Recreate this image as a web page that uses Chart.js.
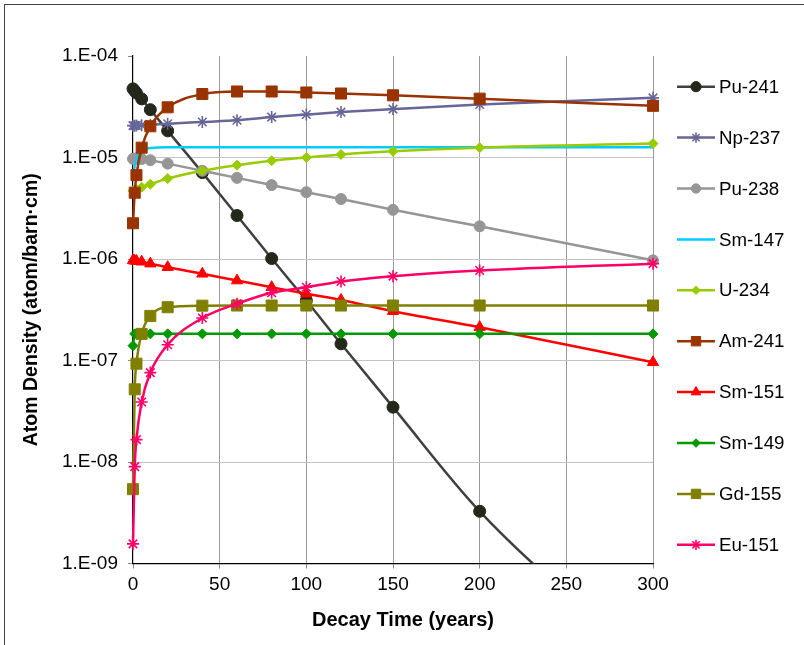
<!DOCTYPE html>
<html>
<head>
<meta charset="utf-8">
<script src="https://cdn.jsdelivr.net/npm/chart.js@4/dist/chart.umd.min.js"></script>
<style>
  body { margin: 0; background: #fff; }
  canvas { display: block; }
</style>
</head>
<body>
<canvas id="chart" width="804" height="645"></canvas>
<script>
// decay time in years
var years = [0, 1, 2, 5, 10, 20, 40, 60, 80, 100, 120, 150, 200, 300];

// atom densities (atom/barn-cm)
var pu241 = [4.75e-5, 4.53e-5, 4.32e-5, 3.78e-5, 2.96e-5, 1.83e-5, 7.1e-6, 2.68e-6, 1.01e-6, 3.9e-7, 1.46e-7, 3.47e-8, 3.27e-9, 9e-11];
var np237 = [2.06e-5, 2.06e-5, 2.07e-5, 2.08e-5, 2.1e-5, 2.15e-5, 2.24e-5, 2.33e-5, 2.5e-5, 2.65e-5, 2.8e-5, 3.0e-5, 3.33e-5, 3.87e-5];
var pu238 = [9.7e-6, 9.75e-6, 9.75e-6, 9.65e-6, 9.4e-6, 8.7e-6, 7.4e-6, 6.3e-6, 5.35e-6, 4.55e-6, 3.9e-6, 3.05e-6, 2.1e-6, 9.7e-7];
var sm147 = [6.5e-6, 8.3e-6, 9.7e-6, 1.17e-5, 1.24e-5, 1.26e-5, 1.26e-5, 1.26e-5, 1.26e-5, 1.26e-5, 1.26e-5, 1.26e-5, 1.26e-5, 1.26e-5];
var u234 = [4.7e-6, 4.78e-6, 4.86e-6, 5.1e-6, 5.45e-6, 6.2e-6, 7.4e-6, 8.4e-6, 9.3e-6, 1.0e-5, 1.07e-5, 1.15e-5, 1.25e-5, 1.37e-5];
var am241 = [2.25e-6, 4.5e-6, 6.7e-6, 1.25e-5, 2.03e-5, 3.12e-5, 4.22e-5, 4.47e-5, 4.47e-5, 4.37e-5, 4.27e-5, 4.1e-5, 3.8e-5, 3.23e-5];
var sm151 = [9.7e-7, 9.6e-7, 9.55e-7, 9.4e-7, 9.0e-7, 8.3e-7, 7.15e-7, 6.13e-7, 5.27e-7, 4.54e-7, 3.95e-7, 3.06e-7, 2.13e-7, 9.6e-8];
var sm149 = [1.4e-7, 1.83e-7, 1.83e-7, 1.83e-7, 1.83e-7, 1.83e-7, 1.83e-7, 1.83e-7, 1.83e-7, 1.83e-7, 1.83e-7, 1.83e-7, 1.83e-7, 1.83e-7];
var gd155 = [5.4e-9, 5.2e-8, 9.3e-8, 1.83e-7, 2.75e-7, 3.35e-7, 3.47e-7, 3.48e-7, 3.48e-7, 3.48e-7, 3.48e-7, 3.48e-7, 3.48e-7, 3.48e-7];
var eu151 = [1.56e-9, 9.0e-9, 1.66e-8, 3.9e-8, 7.6e-8, 1.43e-7, 2.62e-7, 3.62e-7, 4.65e-7, 5.27e-7, 6.0e-7, 6.77e-7, 7.7e-7, 9.0e-7];

var names = ['Pu-241', 'Np-237', 'Pu-238', 'Sm-147', 'U-234', 'Am-241', 'Sm-151', 'Sm-149', 'Gd-155', 'Eu-151'];
var series = [pu241, np237, pu238, sm147, u234, am241, sm151, sm149, gd155, eu151];

var yTicks = [1e-4, 1e-5, 1e-6, 1e-7, 1e-8, 1e-9];
var yLabels = ['1.E-04', '1.E-05', '1.E-06', '1.E-07', '1.E-08', '1.E-09'];

var xTitle = 'Decay Time (years)';
var yTitle = 'Atom Density (atom/barn·cm)';

// look of each series (line colour, marker colour, marker)
var lineColors = ['#404040', '#666699', '#969696', '#00ccff', '#99cc00', '#993300', '#ff0000', '#009900', '#808000', '#ff0066'];
var markColors = ['#23281a', '#666699', '#969696', '#00ccff', '#99cc00', '#993300', '#ff0000', '#009900', '#808000', '#ff0066'];
var markers = ['circle', 'star', 'circle', false, 'rectRot', 'rect', 'triangle', 'rectRot', 'rect', 'star'];
var markSize = [6, 6, 5.5, 0, 5, 7.8, 6.5, 5, 7.8, 6];

var FONT = "'Liberation Sans', Arial, sans-serif";

var datasets = [];
for (var i = 0; i < series.length; i++) {
    var pts = [];
    for (var j = 0; j < years.length; j++) {
        pts.push({x: years[j], y: series[i][j]});
    }
    datasets.push({
        label: names[i],
        data: pts,
        borderColor: lineColors[i],
        backgroundColor: markColors[i],
        borderWidth: 2.5,
        pointStyle: markers[i],
        pointRadius: markSize[i],
        pointBorderColor: markColors[i],
        pointBackgroundColor: markColors[i],
        pointBorderWidth: markers[i] == 'star' ? 1.6 : 1,
        cubicInterpolationMode: 'monotone',
        // let the t=0 markers show past the axis, but cut the line at the bottom
        clip: {left: 12, top: 12, right: 12, bottom: 0},
        order: series.length - i
    });
}

// white background + outer frame
var frame = {
    id: 'frame',
    beforeDraw: function(chart) {
        var c = chart.ctx;
        c.save();
        c.fillStyle = '#fff';
        c.fillRect(0, 0, chart.width, chart.height);
        c.strokeStyle = '#444';
        c.lineWidth = 1;
        c.strokeRect(4.5, 4.5, 1000, 1000);
        c.restore();
    }
};

// legend on the right: line with marker, then the name
// (x axis title drawn here too, it sits a bit right of the plot centre)
var sideLegend = {
    id: 'sideLegend',
    afterDraw: function(chart) {
        var c = chart.ctx;
        c.save();
        for (var i = 0; i < chart.data.datasets.length; i++) {
            var ds = chart.data.datasets[i];
            var y = 86.7 + i * 50.9;
            c.strokeStyle = ds.borderColor;
            c.lineWidth = 2.5;
            c.beginPath();
            c.moveTo(677, y);
            c.lineTo(715, y);
            c.stroke();
            if (ds.pointStyle) {
                c.fillStyle = ds.pointBackgroundColor;
                c.strokeStyle = ds.pointBorderColor;
                c.lineWidth = ds.pointBorderWidth;
                Chart.helpers.drawPoint(c, {pointStyle: ds.pointStyle, radius: ds.pointRadius * 0.85, rotation: 0, borderWidth: ds.pointBorderWidth}, 696, y);
            }
            c.fillStyle = '#000';
            c.font = '18.7px ' + FONT;
            c.textBaseline = 'middle';
            c.textAlign = 'left';
            c.fillText(ds.label, 719, y + 1);
        }
        c.font = 'bold 20px ' + FONT;
        c.textAlign = 'center';
        c.textBaseline = 'middle';
        c.fillText(xTitle, 403, 620);
        c.restore();
    }
};

new Chart(document.getElementById('chart'), {
    type: 'line',
    data: {datasets: datasets},
    plugins: [frame, sideLegend],
    options: {
        responsive: false,
        animation: false,
        layout: {padding: {left: 0, top: 56, right: 151, bottom: 0}},
        plugins: {
            legend: {display: false},
            tooltip: {enabled: false}
        },
        scales: {
            x: {
                type: 'linear',
                min: 0,
                max: 300,
                afterFit: function(s) { s.height = 81.5; },
                ticks: {stepSize: 50, color: '#000', padding: 5, font: {family: FONT, size: 19}},
                grid: {
                    color: function(ctx) { return ctx.tick && ctx.tick.value === 0 ? 'rgba(0,0,0,0)' : '#9a9a9a'; },
                    tickColor: '#888',
                    tickLength: 5
                },
                border: {color: '#000', width: 1.2},
                title: {display: false}
            },
            y: {
                type: 'logarithmic',
                min: 1e-9,
                max: 1e-4,
                afterFit: function(s) { s.width = 133; },
                afterBuildTicks: function(s) {
                    s.ticks = yTicks.map(function(v) { return {value: v}; });
                },
                ticks: {
                    color: '#000',
                    padding: 10,
                    font: {family: FONT, size: 19},
                    callback: function(v) {
                        var k = yTicks.indexOf(v);
                        return k < 0 ? '' : yLabels[k];
                    }
                },
                grid: {
                    color: function(ctx) { return ctx.tick && ctx.tick.value === 1e-4 ? 'rgba(0,0,0,0)' : '#c4c4c4'; },
                    tickColor: '#888',
                    tickLength: 5
                },
                border: {color: '#000', width: 1.2},
                title: {
                    display: true,
                    text: yTitle,
                    color: '#000',
                    font: {family: FONT, size: 19.5, weight: 'bold'},
                    padding: {top: 20, bottom: 0}
                }
            }
        }
    }
});
</script>
</body>
</html>
